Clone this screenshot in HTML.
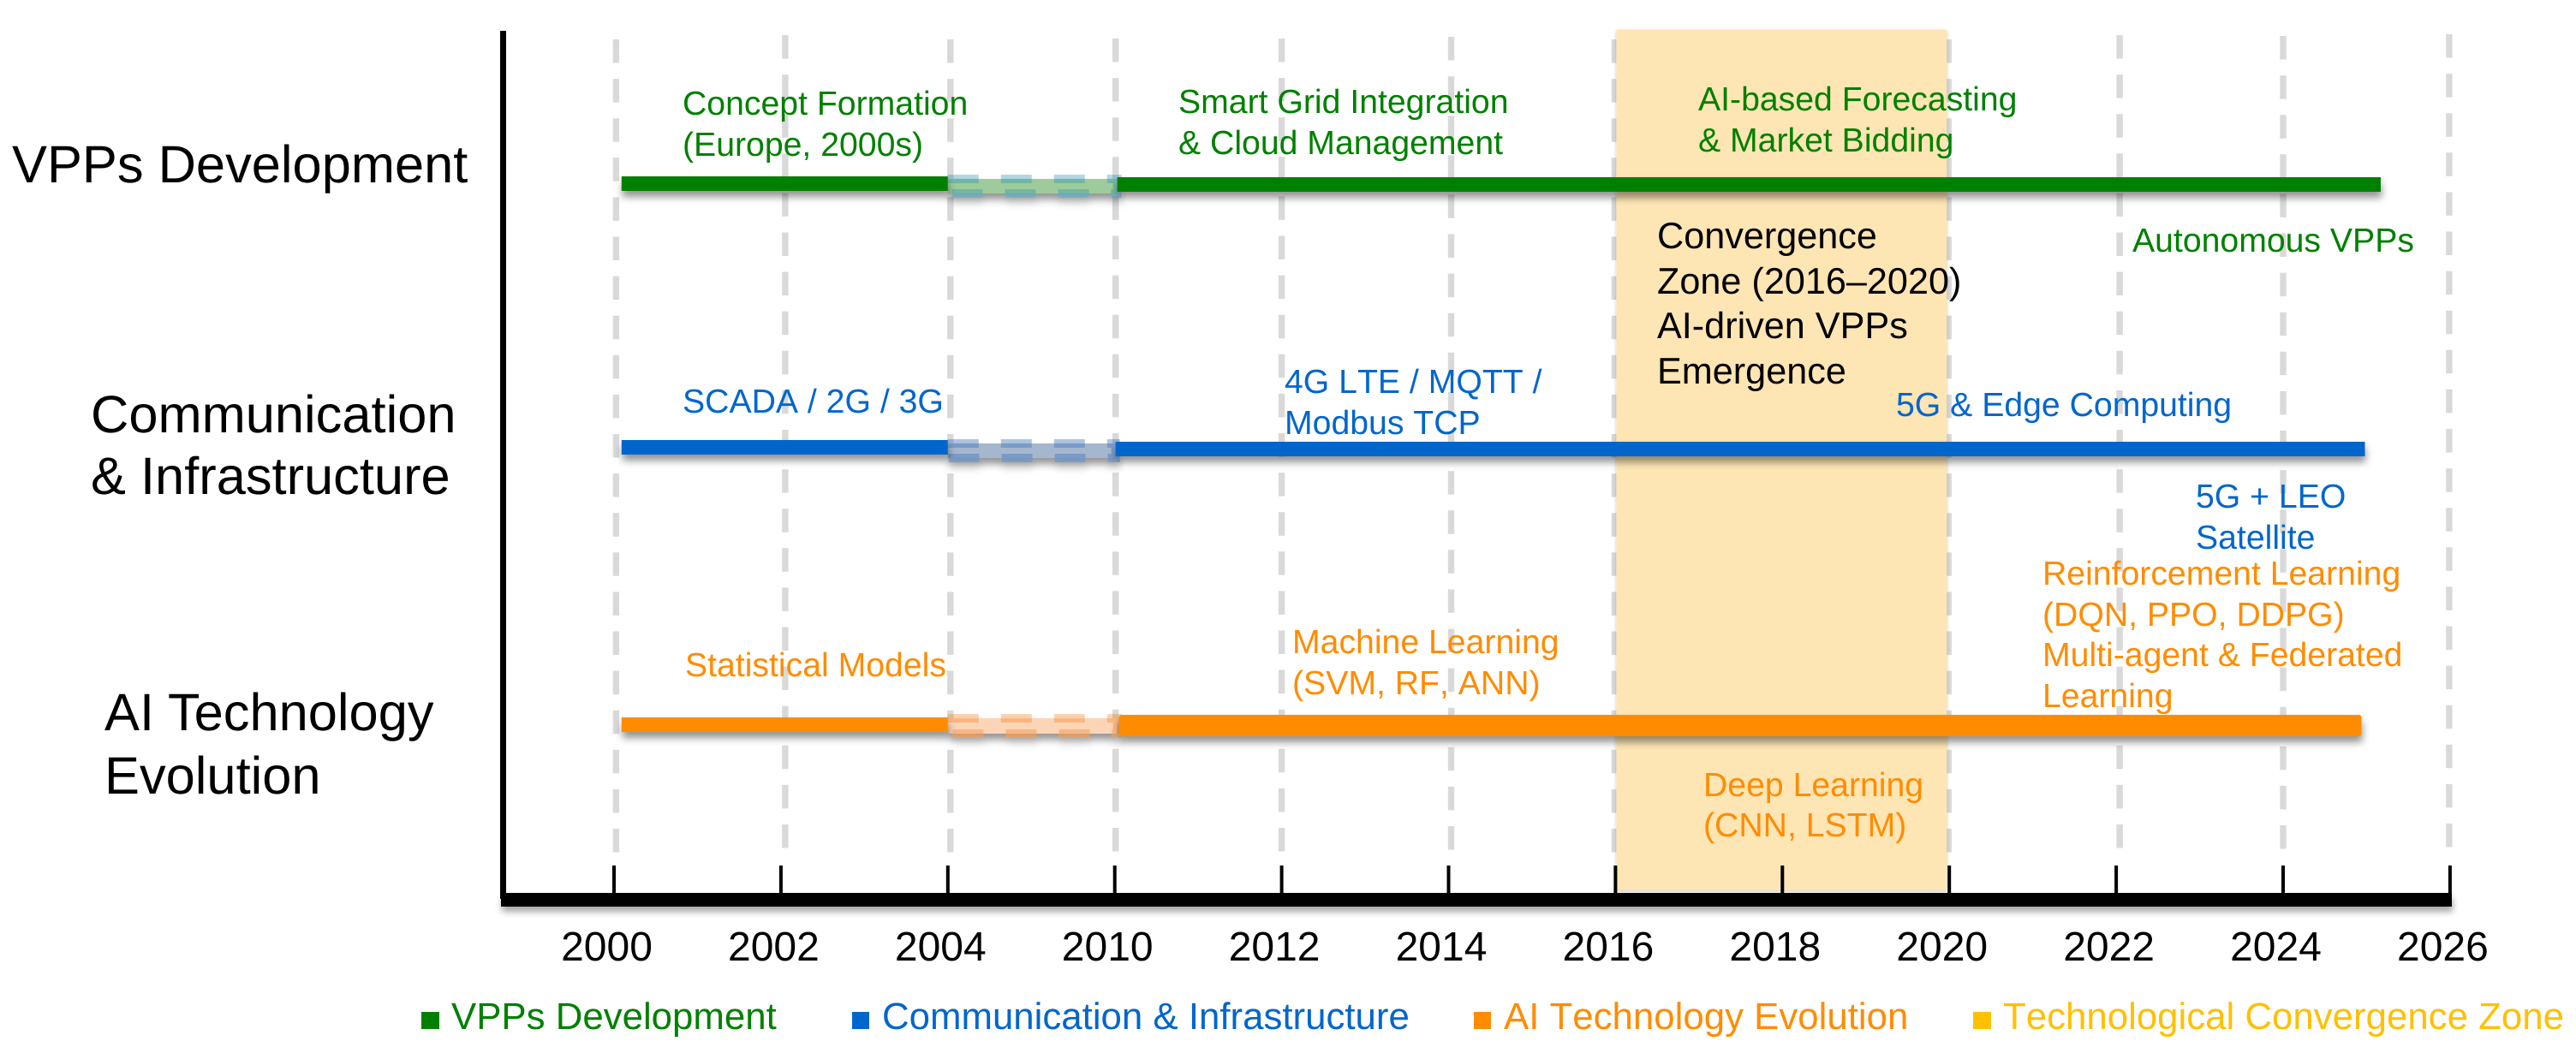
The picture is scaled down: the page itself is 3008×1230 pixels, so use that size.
<!DOCTYPE html>
<html lang="en">
<head>
<meta charset="utf-8">
<title>VPP, Communication and AI Technology Timeline</title>
<style>
html,body{margin:0;padding:0;background:#fff;}
svg{display:block;}
text{font-family:"Liberation Sans",Arial,sans-serif;text-rendering:geometricPrecision;font-kerning:none;}
.lab{font-size:39.2px;}
.g{fill:#008000;}
.b{fill:#0066CC;}
.o{fill:#FF8C00;}
.k{fill:#000;}
.cz{font-size:43.2px;fill:#000;}
.row{font-size:61.4px;fill:#000;font-kerning:normal;}
.leg{font-size:43.8px;}
</style>
</head>
<body>
<svg id="chart" xmlns="http://www.w3.org/2000/svg" width="3008" height="1230" viewBox="0 0 3008 1230">
  <defs>
    <filter id="sh" x="-5%" y="-100%" width="110%" height="350%">
      <feDropShadow dx="1" dy="7" stdDeviation="4.5" flood-color="#000" flood-opacity="0.42"/>
    </filter>
    <filter id="shAxis" x="-5%" y="-100%" width="110%" height="350%">
      <feDropShadow dx="1" dy="6" stdDeviation="4" flood-color="#000" flood-opacity="0.35"/>
    </filter>
    <filter id="shBand" x="-5%" y="-5%" width="110%" height="110%">
      <feDropShadow dx="0" dy="1" stdDeviation="2" flood-color="#000" flood-opacity="0.22"/>
    </filter>
  </defs>
  <g id="grid"></g>
  <g id="zone"></g>
  <g id="axes"></g>
  <g id="bars"></g>
  <g id="ticklabels"></g>

  <g>
    <text class="row" x="14" y="213">VPPs Development</text>
    <text class="row" x="106" y="505">Communication</text>
    <text class="row" x="106" y="577">&amp; Infrastructure</text>
    <text class="row" x="122" y="853">AI Technology</text>
    <text class="row" x="122" y="927">Evolution</text>
  </g>

  <g>
    <text class="lab g" x="797" y="134">Concept Formation</text>
    <text class="lab g" x="797" y="182">(Europe, 2000s)</text>
    <text class="lab g" x="1376" y="132">Smart Grid Integration</text>
    <text class="lab g" x="1376" y="180">&amp; Cloud Management</text>
    <text class="lab g" x="1983" y="129">AI-based Forecasting</text>
    <text class="lab g" x="1983" y="177">&amp; Market Bidding</text>
    <text class="lab g" x="2490" y="294">Autonomous VPPs</text>
  </g>

  <g>
    <text class="cz" x="1935" y="290">Convergence</text>
    <text class="cz" x="1935" y="343">Zone (2016–2020)</text>
    <text class="cz" x="1935" y="395">AI-driven VPPs</text>
    <text class="cz" x="1935" y="448">Emergence</text>
  </g>

  <g>
    <text class="lab b" x="797" y="482">SCADA / 2G / 3G</text>
    <text class="lab b" x="1500" y="459">4G LTE / MQTT /</text>
    <text class="lab b" x="1500" y="507">Modbus TCP</text>
    <text class="lab b" x="2214" y="486">5G &amp; Edge Computing</text>
    <text class="lab b" x="2564" y="593">5G + LEO</text>
    <text class="lab b" x="2564" y="641">Satellite</text>
  </g>

  <g>
    <text class="lab o" x="800" y="790">Statistical Models</text>
    <text class="lab o" x="1509" y="763">Machine Learning</text>
    <text class="lab o" x="1509" y="811">(SVM, RF, ANN)</text>
    <text class="lab o" x="1989" y="930">Deep Learning</text>
    <text class="lab o" x="1989" y="977">(CNN, LSTM)</text>
    <text class="lab o" x="2385" y="683">Reinforcement Learning</text>
    <text class="lab o" x="2385" y="731">(DQN, PPO, DDPG)</text>
    <text class="lab o" x="2385" y="778">Multi-agent &amp; Federated</text>
    <text class="lab o" x="2385" y="826">Learning</text>
  </g>

  <g>
    <rect x="492" y="1182" width="21" height="20" fill="#008000"/>
    <text class="leg g" x="527" y="1202">VPPs Development</text>
    <rect x="995" y="1182" width="20" height="20" fill="#0066CC"/>
    <text class="leg b" x="1030" y="1202">Communication &amp; Infrastructure</text>
    <rect x="1721" y="1182" width="20" height="20" fill="#FF8C00"/>
    <text class="leg o" x="1756" y="1202">AI Technology Evolution</text>
    <rect x="2304" y="1182" width="21" height="20" fill="#FFC000"/>
    <text class="leg" fill="#FFC000" x="2339" y="1202">Technological Convergence Zone</text>
  </g>
</svg>

<script>
// Chart data
const yearTicks = [2000, 2002, 2004, 2010, 2012, 2014, 2016, 2018, 2020, 2022, 2024, 2026];
const tickLabels = ['2000', '2002', '2004', '2010', '2012', '2014', '2016', '2018', '2020', '2022', '2024', '2026'];
const convergenceZone = [2016.01, 2019.97];

const vppEarly = [2000.09, 2004];
const vppTransition = [2004, 2010.03];
const vppLate = [2010.03, 2025.17];

const commEarly = [2000.09, 2004];
const commTransition = [2004, 2010.01];
const commLate = [2010.01, 2024.98];

const aiEarly = [2000.09, 2004];
const aiTransition = [2004, 2010.03];
const aiLate = [2010.05, 2024.94];

// Axis functions
const SVG_NS = 'http://www.w3.org/2000/svg';

function xScale(year) {
  const x0 = 717, step = 194.9;
  const n = yearTicks.length;
  if (year <= yearTicks[0]) return x0 + (year - yearTicks[0]) / (yearTicks[1] - yearTicks[0]) * step;
  for (let i = 0; i < n - 1; i++) {
    if (year <= yearTicks[i + 1]) {
      return x0 + (i + (year - yearTicks[i]) / (yearTicks[i + 1] - yearTicks[i])) * step;
    }
  }
  return x0 + (n - 1) * step;
}

function rowCenter(rowName) {
  if (rowName === 'vpp') return 215.5;
  if (rowName === 'comm') return 524.5;
  return 847.5;
}

function gridOffset(i) {
  return [2.4, 5, 3, 1, 0, 3, -1, 0, -1, 4, 0, -1][i];
}

function gridDashStart(i) {
  return [46, 41, 46, 45, 45, 43, 46, 46, 46, 41, 42, 40][i];
}

function make(tag, attrs) {
  const el = document.createElementNS(SVG_NS, tag);
  for (const k in attrs) el.setAttribute(k, attrs[k]);
  return el;
}

// Gridlines
const gridLayer = document.getElementById('grid');
yearTicks.forEach(function (year, i) {
  const x = xScale(year) + gridOffset(i);
  const line = make('line', {
    x1: x, x2: x, y1: gridDashStart(i), y2: 998,
    stroke: '#d9d9d9', 'stroke-width': 7.4, 'stroke-dasharray': '27.5 18.6'
  });
  
  
  gridLayer.appendChild(line);
});

// Convergence band
const zoneLayer = document.getElementById('zone');
const zoneRect = make('rect', {
  x: xScale(convergenceZone[0]), y: 35,
  width: xScale(convergenceZone[1]) - xScale(convergenceZone[0]), height: 1005,
  fill: '#FDE5B4', filter: 'url(#shBand)'
});


zoneLayer.appendChild(zoneRect);

// Axes
const axesLayer = document.getElementById('axes');
const yAxis = make('rect', { x: 584, y: 36, width: 7, height: 1014, fill: '#000' });


axesLayer.appendChild(yAxis);

const xAxis = make('rect', { x: 585, y: 1043, width: 2278, height: 16, fill: '#000', filter: 'url(#shAxis)' });


axesLayer.appendChild(xAxis);

yearTicks.forEach(function (year, i) {
  const x = xScale(year);
  const tick = make('rect', { x: x - 2, y: 1011, width: 4, height: 33, fill: '#000' });
  
  
  axesLayer.appendChild(tick);
});

// Tick labels
const tickLayer = document.getElementById('ticklabels');
tickLabels.forEach(function (label, i) {
  const t = make('text', {
    x: xScale(yearTicks[i]) - 8.5, y: 1122, 'text-anchor': 'middle',
    'font-size': 48, fill: '#000'
  });
  
  
  t.textContent = label;
  tickLayer.appendChild(t);
});

// Timeline bars
const barLayer = document.getElementById('bars');

function solidBar(range, row, shift, height, color, radius, name) {
  const bar = make('rect', {
    x: xScale(range[0]), y: rowCenter(row) + shift - height / 2,
    width: xScale(range[1]) - xScale(range[0]), height: height,
    rx: radius, fill: color, filter: 'url(#sh)'
  });
  
  
  barLayer.appendChild(bar);
}

function transitionBar(range, row, shift, height, fill, stroke, strokeAlpha, name) {
  const bar = make('rect', {
    x: xScale(range[0]), y: rowCenter(row) + shift - height / 2,
    width: xScale(range[1]) - xScale(range[0]), height: height,
    fill: fill, stroke: stroke, 'stroke-opacity': strokeAlpha,
    'stroke-width': 10, 'stroke-dasharray': '36 26', filter: 'url(#sh)'
  });
  
  
  barLayer.appendChild(bar);
}

transitionBar(vppTransition, 'vpp', 2, 17, '#9ecb9b', '#1a8cb4', 0.33, 'bar-vpp-transition');
transitionBar(commTransition, 'comm', 2, 17, '#a5b7cf', '#3a70bb', 0.4, 'bar-communication-transition');
transitionBar(aiTransition, 'ai', 0.5, 18, '#fbd5b5', '#f57010', 0.3, 'bar-ai-transition');

solidBar(vppEarly, 'vpp', -1, 17, '#008000', 0, 'bar-vpp-early');
solidBar(vppLate, 'vpp', 0, 17, '#008000', 0, 'bar-vpp-late');
solidBar(commEarly, 'comm', -2, 17, '#0066CC', 0, 'bar-communication-early');
solidBar(commLate, 'comm', 0, 17, '#0066CC', 0, 'bar-communication-late');
solidBar(aiEarly, 'ai', -1, 17, '#FF8C00', 0, 'bar-ai-early');
solidBar(aiLate, 'ai', 0, 25, '#FF8C00', 3, 'bar-ai-late');
</script>
</body>
</html>
